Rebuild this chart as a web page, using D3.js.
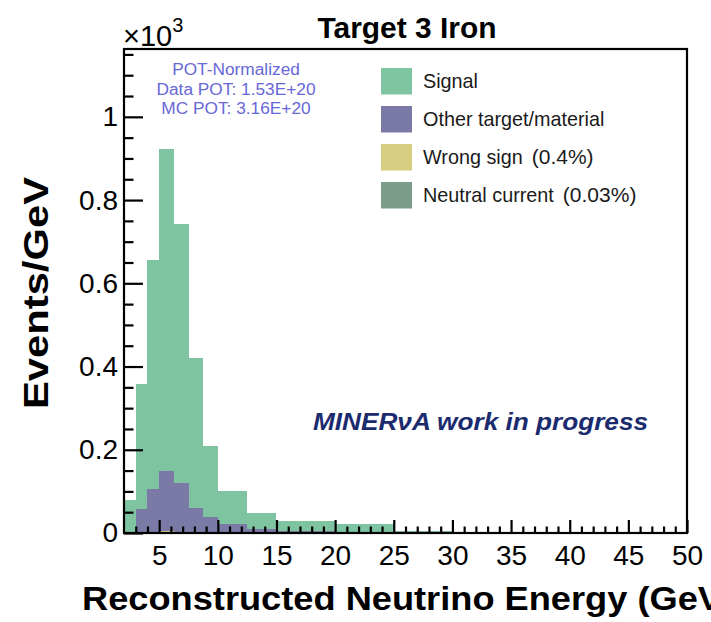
<!DOCTYPE html>
<html>
<head>
<meta charset="utf-8">
<script src="https://cdn.jsdelivr.net/npm/d3@7"></script>
<style>
  html, body { margin: 0; padding: 0; background: #fff; }
  svg { display: block; }
  text { font-family: "Liberation Sans", Arial, Helvetica, sans-serif; }
</style>
</head>
<body>
<svg id="chart" width="711" height="622"></svg>
<script>
// ---------- data (Events/GeV, ×10^3) ----------
const binEdges = [2, 3, 4, 5, 6.25, 7.5, 8.75, 10, 12.5, 15, 20, 25, 30, 40, 50];
const neutralCurrent = [0, 0.0001, 0.0002, 0.0003, 0.0002, 0.0001, 0.0001, 0, 0, 0, 0, 0, 0, 0];
const wrongSign      = [0.0003, 0.0014, 0.0026, 0.0037, 0.003, 0.0017, 0.0008, 0.0004, 0.0002, 0.0001, 0.0001, 0, 0, 0];
const otherTarget    = [0, 0.0555, 0.1032, 0.146, 0.1168, 0.0582, 0.0371, 0.0216, 0.0088, 0.0039, 0.0019, 0.001, 0.0005, 0];
const signal         = [0.080, 0.301, 0.549, 0.772, 0.623, 0.360, 0.172, 0.078, 0.040, 0.024, 0.020, 0.003, 0.0015, 0.001];

const seriesNames  = ["Signal", "Other target/material", "Wrong sign", "Neutral current"];
const seriesNotes  = ["", "", "(0.4%)", "(0.03%)"];
const seriesColors = ["#7ec4a1", "#7b7aa6", "#d6cd80", "#7a9c88"];

const xMajorTicks = [5, 10, 15, 20, 25, 30, 35, 40, 45, 50];
const yMajorTicks = [0, 0.2, 0.4, 0.6, 0.8, 1];
const yTickLabels = ["0", "0.2", "0.4", "0.6", "0.8", "1"];

const titleText = "Target 3 Iron";
const xTitle = "Reconstructed Neutrino Energy (GeV)";
const yTitle = "Events/GeV";
const potLines = ["POT-Normalized", "Data POT: 1.53E+20", "MC POT: 3.16E+20"];
const workText = "MINERνA work in progress";

// ---------- layout ----------
const svg = d3.select("#chart");
const L = 124, R = 687, T = 49, B = 533;
const x = d3.scaleLinear().domain([2, 50]).range([L, R]);
const y = d3.scaleLinear().domain([0, 1.163]).range([B, T]);

// ---------- stacked histogram ----------
const rows = binEdges.slice(0, -1).map((lo, i) => ({
  lo, hi: binEdges[i + 1],
  nc: neutralCurrent[i], ws: wrongSign[i], other: otherTarget[i], signal: signal[i]
}));
const keys = ["nc", "ws", "other", "signal"]; // bottom → top
const keyColor = { signal: seriesColors[0], other: seriesColors[1], ws: seriesColors[2], nc: seriesColors[3] };
const stacked = d3.stack().keys(keys)(rows);

const plot = svg.append("g");
stacked.forEach(layer => {
  plot.append("g").attr("fill", keyColor[layer.key])
    .selectAll("rect").data(layer).join("rect")
    .attr("x", d => x(d.data.lo))
    .attr("width", d => x(d.data.hi) - x(d.data.lo))
    .attr("y", d => y(d[1]))
    .attr("height", d => Math.max(0, y(d[0]) - y(d[1])))
    .attr("shape-rendering", "crispEdges");
});

// ---------- axes ----------
const xMinor = d3.range(3, 50).filter(v => v % 5 !== 0);
const yMinor = d3.range(1, 24).map(i => +(i * 0.05).toFixed(2)).filter(v => Math.abs(v * 5 - Math.round(v * 5)) > 1e-6);

const gx = svg.append("g").attr("transform", `translate(0,${B})`);
gx.call(d3.axisBottom(x).tickValues(xMinor).tickSize(-6.5).tickFormat(""));
const gxM = svg.append("g").attr("transform", `translate(0,${B})`);
gxM.call(d3.axisBottom(x).tickValues(xMajorTicks).tickSize(-13).tickPadding(12).tickFormat(d3.format("d")));

const gy = svg.append("g").attr("transform", `translate(${L},0)`);
gy.call(d3.axisLeft(y).tickValues(yMinor).tickSize(-9.5).tickFormat(""));
const gyM = svg.append("g").attr("transform", `translate(${L},0)`);
gyM.call(d3.axisLeft(y).tickValues(yMajorTicks).tickSize(-19).tickPadding(6)
  .tickFormat((d, i) => yTickLabels[i]));

[gx, gxM, gy, gyM].forEach(g => {
  g.select(".domain").remove();
  g.selectAll(".tick line").attr("stroke", "#000").attr("stroke-width", 2.2);
  g.selectAll(".tick text").attr("fill", "#000").attr("font-size", 28)
    .attr("font-family", "Liberation Sans, Arial, sans-serif");
});

// frame
svg.append("rect").attr("x", L).attr("y", T).attr("width", R - L).attr("height", B - T)
  .attr("fill", "none").attr("stroke", "#000").attr("stroke-width", 2.2);

// ×10^3
const mult = svg.append("text").attr("x", 123).attr("y", 46).attr("font-size", 29).attr("fill", "#000");
mult.append("tspan").text("×10");
mult.append("tspan").attr("font-size", 20).attr("dy", -14).text("3");

// title
svg.append("text").attr("x", 407).attr("y", 38).attr("text-anchor", "middle")
  .attr("font-size", 29).attr("font-weight", "bold").attr("fill", "#000")
  .attr("textLength", 179).attr("lengthAdjust", "spacingAndGlyphs").text(titleText);

// POT annotation
potLines.forEach((t, i) => {
  svg.append("text").attr("x", 236).attr("y", 75 + i * 19.5).attr("text-anchor", "middle")
    .attr("font-size", 17.3).attr("fill", "#6767d6").text(t);
});

// legend
const legY = [68, 106, 144, 182];
seriesNames.forEach((name, i) => {
  svg.append("rect").attr("x", 381).attr("y", legY[i]).attr("width", 31).attr("height", 26.5)
    .attr("fill", seriesColors[i]);
  const t = svg.append("text").attr("x", 423).attr("y", legY[i] + 20).attr("font-size", 19.8).attr("fill", "#1a1a1a");
  t.append("tspan").text(name);
  if (seriesNotes[i]) t.append("tspan").attr("dx", 9).attr("font-size", 21).text(seriesNotes[i]);
});

// work in progress
svg.append("text").attr("x", 313).attr("y", 430).attr("font-size", 24)
  .attr("font-weight", "bold").attr("font-style", "italic").attr("fill", "#1b2b6e")
  .attr("textLength", 335).attr("lengthAdjust", "spacingAndGlyphs").text(workText);

// x axis title (clipped by the right edge, as in the reference)
svg.append("text").attr("x", 82).attr("y", 610).attr("font-size", 34).attr("font-weight", "bold")
  .attr("fill", "#000").attr("textLength", 652).attr("lengthAdjust", "spacingAndGlyphs").text(xTitle);

// y axis title
svg.append("text").attr("transform", "translate(48,293) rotate(-90)").attr("text-anchor", "middle")
  .attr("font-size", 35).attr("font-weight", "bold").attr("fill", "#000")
  .attr("textLength", 232).attr("lengthAdjust", "spacingAndGlyphs").text(yTitle);
</script>
</body>
</html>
